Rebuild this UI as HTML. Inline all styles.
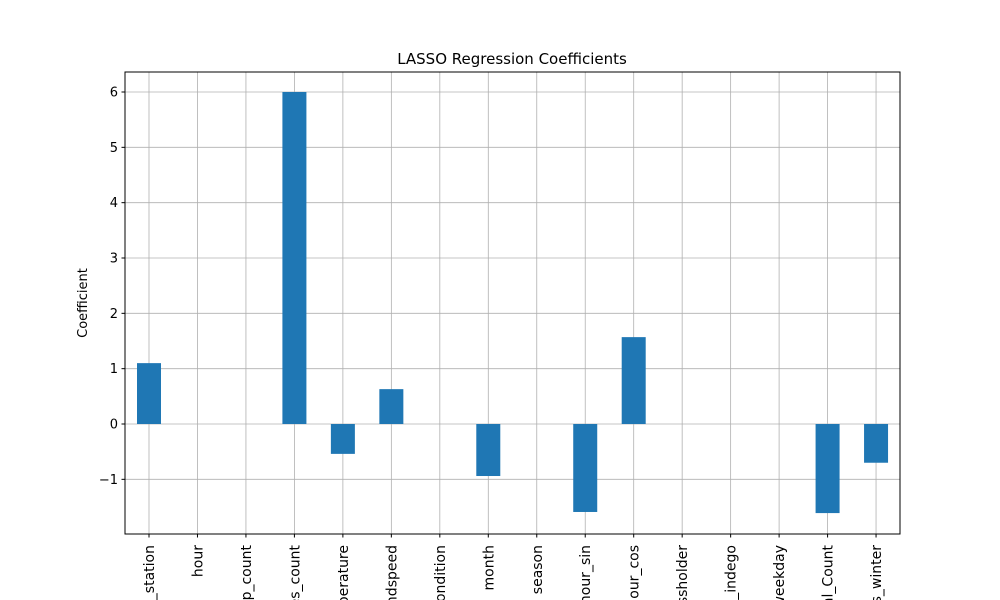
<!DOCTYPE html>
<html><head><meta charset="utf-8"><style>
html,body{margin:0;padding:0;background:#fff;width:1000px;height:600px;overflow:hidden;}
svg{display:block;overflow:hidden;font-family:"DejaVu Sans","Liberation Sans",sans-serif;}
</style></head><body>
<svg id="chart" width="1000" height="600" viewBox="0 0 1000 600">
<defs><clipPath id="frameclip"><rect x="0" y="0" width="1000" height="600"/></clipPath></defs>
<rect width="1000" height="600" fill="#fff"/>
<text x="512" y="64" font-size="15" text-anchor="middle" fill="#000">LASSO Regression Coefficients</text>
<text transform="translate(87,303) rotate(-90)" font-size="13" text-anchor="middle" fill="#000">Coefficient</text>
<g id="grid"></g><g id="bars"></g><g id="ticks" clip-path="url(#frameclip)"></g>
<rect x="125" y="72" width="775" height="462" fill="none" stroke="#000" stroke-width="1"/>
</svg>
<script>
const categories = ["start_station","hour","trip_count","bikes_count","temperature","windspeed","condition","month","season","hour_sin","hour_cos","passholder","is_indego","is_weekday","Total_Count","is_winter"];
const values = [1.10,0,0,6.0,-0.54,0.63,0,-0.94,0,-1.59,1.57,0,0,0,-1.61,-0.70];
const yTicks = [-1,0,1,2,3,4,5,6];
const NS="http://www.w3.org/2000/svg";
const L=125,R=900,T=72,B=534;
const y=v=>424-v*55.333;
const x=i=>149+i*48.47;
const grid=document.getElementById('grid'),bars=document.getElementById('bars'),ticks=document.getElementById('ticks');
function mk(tag,attrs,parent){const e=document.createElementNS(NS,tag);for(const k in attrs)e.setAttribute(k,attrs[k]);parent.appendChild(e);return e;}
yTicks.forEach(t=>{
  const yy=y(t);
  const g=mk('line',{x1:L,x2:R,y1:yy,y2:yy,stroke:'#b0b0b0','stroke-width':0.8},grid);
  
  
  mk('line',{x1:L-3.5,x2:L,y1:yy,y2:yy,stroke:'#000'},ticks);
  const tx=mk('text',{x:L-7,y:yy+4.5,'font-size':13,'text-anchor':'end',fill:'#000'},ticks);
  tx.textContent=t<0?'\u2212'+Math.abs(t):String(t);
  
  
});
categories.forEach((c,i)=>{
  const xx=x(i);
  const g=mk('line',{x1:xx,x2:xx,y1:T,y2:B,stroke:'#b0b0b0','stroke-width':0.8},grid);
  
  
  const v=values[i];
  if(v!==0){
    const r=mk('rect',{x:xx-12,width:24,y:Math.min(y(v),y(0)),height:Math.abs(y(v)-y(0)),fill:'#1f77b4'},bars);
    
    
  }
  mk('line',{x1:xx,x2:xx,y1:B,y2:B+3.5,stroke:'#000'},ticks);
  const tx=mk('text',{transform:`translate(${xx+5},545) rotate(-90)`,'font-size':14,'text-anchor':'end',fill:'#000'},ticks);
  tx.textContent=c;
  
  
});
</script>
</body></html>
